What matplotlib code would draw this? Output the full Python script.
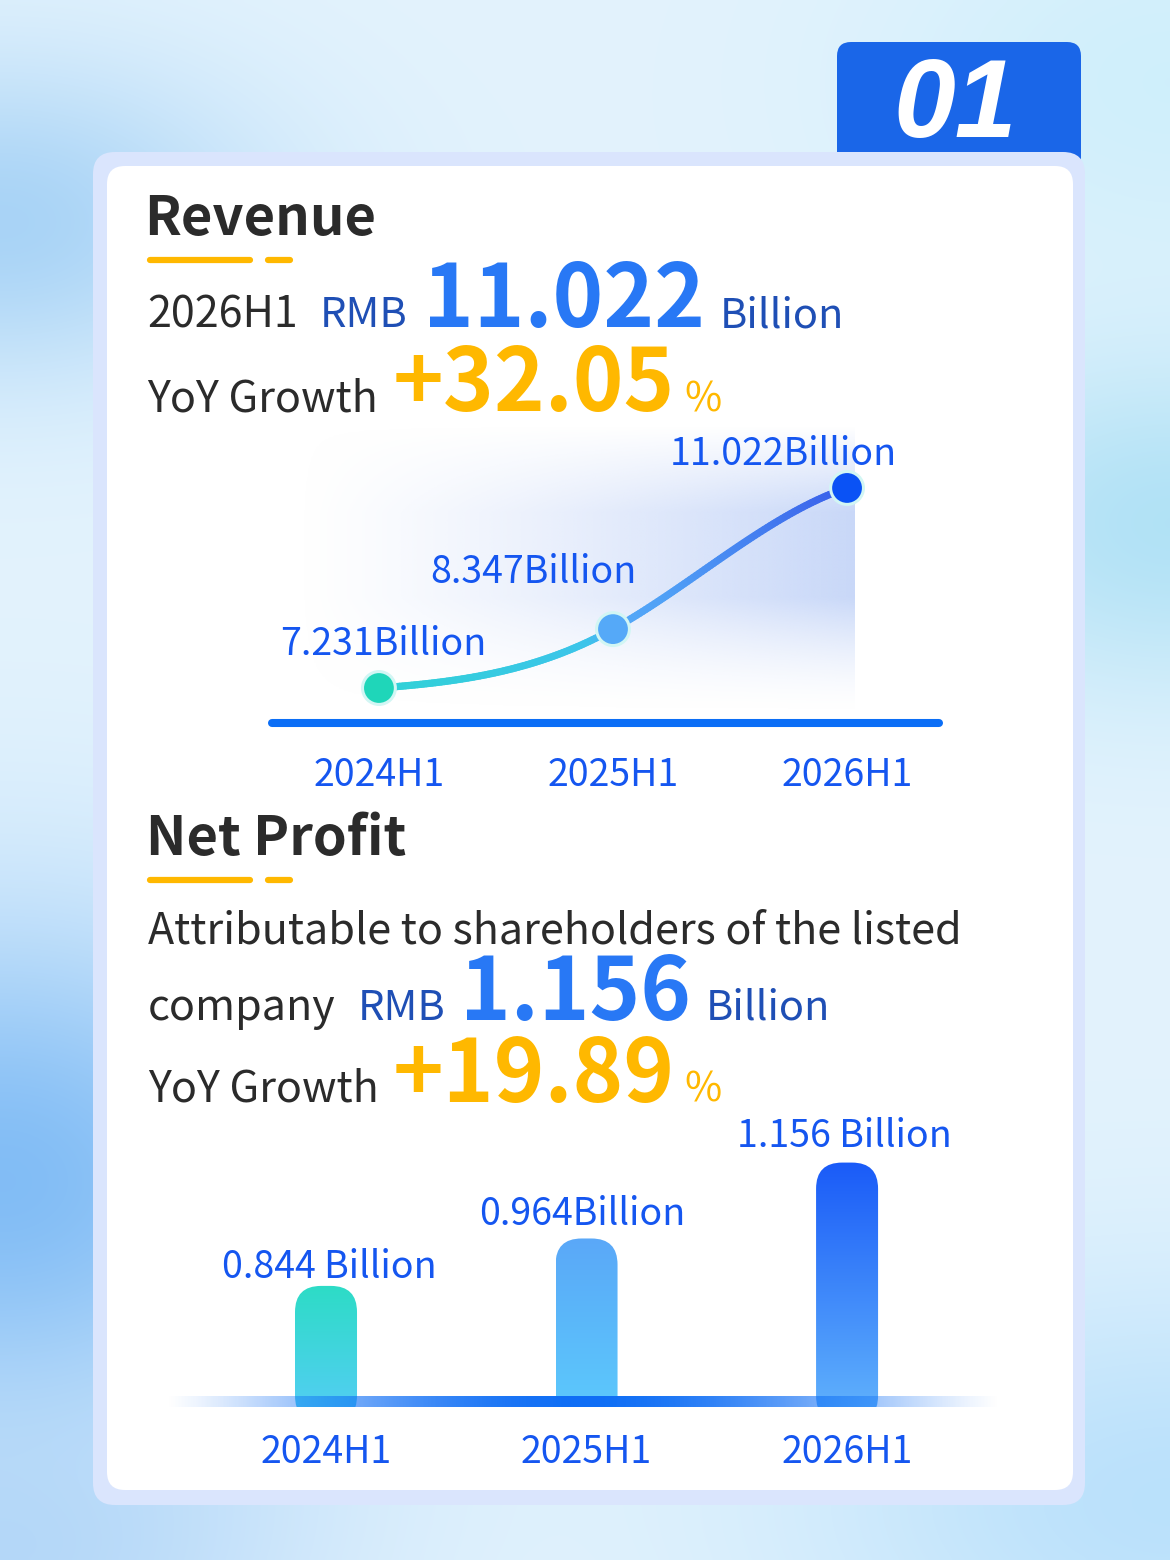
import numpy as np
import matplotlib.pyplot as plt
from matplotlib.patches import FancyBboxPatch
from matplotlib.collections import LineCollection
from matplotlib.bezier import BezierSegment
from matplotlib.colors import to_rgb, LinearSegmentedColormap

plt.rcParams['font.family'] = ['Noto Sans CJK SC', 'DejaVu Sans']

# data
periods = ['2024H1', '2025H1', '2026H1']
revenue = [7.231, 8.347, 11.022]
revenue_labels = ['7.231Billion', '8.347Billion', '11.022Billion']
profit = [0.844, 0.964, 1.156]
profit_labels = ['0.844 Billion', '0.964Billion', '1.156 Billion']

DARK = '#2b2b2b'
NAVY = '#1f4fb5'
BLUE = '#2878f5'
GOLD = '#ffb800'
LBL = '#1556f0'

W, H = 1170, 1560
fig = plt.figure(figsize=(11.7, 15.6), dpi=100)

# ---- background layer in pixel coords
bg = fig.add_axes([0, 0, 1, 1])
bg.set_xlim(0, W)
bg.set_ylim(H, 0)
bg.axis('off')

h, w = H // 4, W // 4
yy, xx = np.mgrid[0:h, 0:w] * 4.0
img = np.ones((h, w, 3)) * np.array(to_rgb('#e3f3fd'))
blobs = [
    (0, 220, 260, 160, '#a6d2f6', 0.95),
    (0, 1180, 330, 260, '#7dbaf5', 0.95),
    (1170, 520, 260, 170, '#ace0f5', 0.9),
    (1170, 80, 300, 200, '#cbeefb', 0.8),
    (1170, 1500, 380, 220, '#b6dffb', 0.9),
    (0, 1560, 300, 160, '#a6cff7', 0.7),
]
for cx, cy, sx, sy, c, a in blobs:
    wgt = (a * np.exp(-((xx - cx) / sx) ** 2 - ((yy - cy) / sy) ** 2))[..., None]
    img = img * (1 - wgt) + np.array(to_rgb(c)) * wgt
bg.imshow(img, extent=(0, W, H, 0), aspect='auto', zorder=0, interpolation='bilinear')

# tab and card
bg.add_patch(FancyBboxPatch((837, 42), 244, 140, boxstyle='round,pad=0,rounding_size=14',
                            fc='#1a66e8', ec='none', zorder=1))
bg.text(955, 137, '01', color='white', fontsize=80, family='Liberation Sans',
        weight='bold', style='italic', ha='center', va='baseline', zorder=2)
bg.add_patch(FancyBboxPatch((93, 152), 992, 1353, boxstyle='round,pad=0,rounding_size=22',
                            fc='#dae5fd', ec='none', zorder=3))
bg.add_patch(FancyBboxPatch((107, 166), 966, 1324, boxstyle='round,pad=0,rounding_size=18',
                            fc='white', ec='none', zorder=3))


def underline(y):
    bg.plot([150, 250], [y, y], color=GOLD, lw=4.5, solid_capstyle='round', zorder=4)
    bg.plot([268, 290], [y, y], color=GOLD, lw=4.5, solid_capstyle='round', zorder=4)


def txt(x, y, s, size, color, weight='normal'):
    bg.text(x, y, s, fontsize=size, color=color, weight=weight, ha='left', va='baseline', zorder=5)


# revenue text block
txt(144, 235, 'Revenue', 39, DARK, 'bold')
underline(260)
txt(147, 327, '2026H1', 31, DARK)
txt(320, 327, 'RMB', 30, NAVY)
txt(423, 327, '11.022', 62, BLUE, 'bold')
txt(720, 327, 'Billion', 30, NAVY)
txt(147, 411, 'YoY Growth', 31, DARK)
txt(393, 411, '+32.05', 62, GOLD, 'bold')
txt(684, 411, '%', 29, GOLD)

# net profit text block
txt(146, 855, 'Net Profit', 39, DARK, 'bold')
underline(880)
txt(148, 943, 'Attributable to shareholders of the listed', 31, DARK)
txt(148, 1020, 'company', 31, DARK)
txt(358, 1020, 'RMB', 30, NAVY)
txt(460, 1020, '1.156', 62, BLUE, 'bold')
txt(706, 1020, 'Billion', 30, NAVY)
txt(148, 1102, 'YoY Growth', 31, DARK)
txt(393, 1102, '+19.89', 62, GOLD, 'bold')
txt(684, 1102, '%', 29, GOLD)

# ---- revenue line chart
ax1 = fig.add_axes([268 / W, 1 - 723 / H, 675 / W, 303 / H])
ax1.patch.set_visible(False)
for s in ax1.spines.values():
    s.set_visible(False)
ax1.set_xlim(-0.474, 2.41)
ax1.set_ylim(6.568, 12.31)

# soft glow behind the curve
gx = np.linspace(0, 1, 200)
gy = np.linspace(0, 1, 120)
GX, GY = np.meshgrid(gx, gy)
fade_b = np.clip(GY / 0.4, 0, 1) ** 1.5
fade_t = np.clip((1 - GY) / 0.3, 0, 1)
glow = np.zeros((120, 200, 4))
glow[..., :3] = to_rgb('#c6d6f8')
glow[..., 3] = 0.95 * GX ** 1.2 * fade_b * fade_t
ax1.imshow(glow, extent=(-0.35, 2.03, 6.75, 12.2), origin='lower', aspect='auto', zorder=1)

ax1.plot([0.006, 0.994], [0, 0], transform=ax1.transAxes, color='#0b6ef6', lw=5.8,
         solid_capstyle='round', clip_on=False, zorder=2)

pts = np.column_stack([np.arange(len(revenue)), revenue]).astype(float)
tang = np.zeros_like(pts)
tang[0] = (pts[1] - pts[0]) * [1, 0.3]
tang[-1] = (pts[-1] - pts[-2]) * [1, 0.55]
tang[1:-1] = (pts[2:] - pts[:-2]) / 2 * [1, 1.3]
line_cmap = LinearSegmentedColormap.from_list(
    'rev', [(0, '#30d2d6'), (0.45, '#3cc4ea'), (0.5, '#55aaf8'), (0.62, '#50a0f6'), (1, '#3a5fea')])
segs, cvals = [], []
for i in range(len(pts) - 1):
    ctrl = np.array([pts[i], pts[i] + tang[i] / 3, pts[i + 1] - tang[i + 1] / 3, pts[i + 1]])
    t = np.linspace(0, 1, 80)
    c = BezierSegment(ctrl)(t)
    segs += [c[k:k + 2] for k in range(len(c) - 1)]
    cvals += list((i + t[:-1]) / (len(pts) - 1))
lc = LineCollection(segs, cmap=line_cmap, linewidths=5.2, capstyle='round', zorder=3)
lc.set_array(np.array(cvals))
ax1.add_collection(lc)

ax1.scatter(pts[:, 0], pts[:, 1], s=560, c=['#1fd6b9', '#55a9f8', '#0a52f5'],
            edgecolors='#d2f6f4', linewidths=2.2, zorder=4)

rev_off = [(4, 33), (-80, 46), (-64, 23)]
for i, (v, lab) in enumerate(zip(revenue, revenue_labels)):
    ax1.annotate(lab, (i, v), xytext=rev_off[i], textcoords='offset pixels',
                 ha='center', va='baseline', fontsize=27, color=LBL, zorder=5)

ax1.set_yticks([])
ax1.set_xticks(range(len(periods)), periods)
ax1.tick_params(axis='x', length=0, pad=24, labelsize=27, labelcolor=LBL)

# ---- net profit bar chart
ax2 = fig.add_axes([165 / W, 1 - 1407 / H, 835 / W, 297 / H])
ax2.patch.set_visible(False)
for s in ax2.spines.values():
    s.set_visible(False)

bw = 0.238
bar_cmaps = [
    LinearSegmentedColormap.from_list('b0', ['#56cdf7', '#2ddcc6']),
    LinearSegmentedColormap.from_list('b1', ['#5ccbfc', '#5aa8f8']),
    LinearSegmentedColormap.from_list('b2', ['#63b5fc', '#1a5bf8']),
]
grad = np.linspace(0, 1, 256)[:, None]
for i, v in enumerate(profit):
    patch = FancyBboxPatch((i - bw / 2, 0.5), bw, v - 0.5,
                           boxstyle='round,pad=0,rounding_size=0.1', mutation_aspect=0.66,
                           fc='none', ec='none')
    ax2.add_patch(patch)
    im = ax2.imshow(grad, extent=(i - bw / 2, i + bw / 2, 0.5, v), origin='lower',
                    aspect='auto', cmap=bar_cmaps[i], zorder=2)
    im.set_clip_path(patch)

# glowing base line
bx = np.linspace(0, 1, 300)
base = np.zeros((1, 300, 4))
base[..., :3] = to_rgb('#0f6ef5')
base[0, :, 3] = np.sin(np.pi * bx) ** 1.2
ax2.imshow(base, extent=(-0.618, 2.587, 0.5377, 0.5635), aspect='auto', zorder=3)

bar_off = [(3, 8), (-4, 13), (-3, 16)]
for i, (v, lab) in enumerate(zip(profit, profit_labels)):
    ax2.annotate(lab, (i, v), xytext=bar_off[i], textcoords='offset pixels',
                 ha='center', va='baseline', fontsize=27, color=LBL, zorder=5)

ax2.set_xlim(-0.618, 2.587)
ax2.set_ylim(0.5377, 1.289)
ax2.set_yticks([])
ax2.set_xticks(range(len(periods)), periods)
ax2.tick_params(axis='x', length=0, pad=19, labelsize=27, labelcolor=LBL)

fig.savefig('out.png', dpi=100)
